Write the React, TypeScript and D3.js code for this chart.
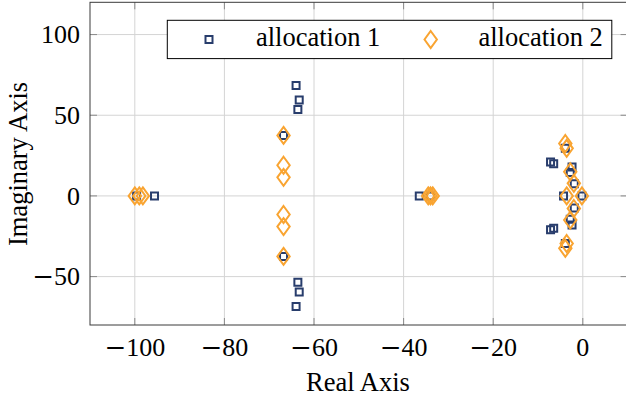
import * as d3 from "d3";
import React from "react";

// pole locations
const alloc1Real = [-99.6, -95.6, -64, -64, -63.3, -63.3, -63.6, -63.6, -66.8, -66.8, -36.5, -34,
  -7.2, -7.2, -6.5, -6.5, -4.3, -3.9, -3.9, -2.4, -2.4, -2.8, -2.8, -1.9, -1.9, -0.2]
const alloc1Imag = [0, 0, 68.5, -68.5, 59.5, -59.5, 53.5, -53.5, 37.5, -37.5, 0, 0,
  21, -21, 20, -20, 0, 29.5, -29.5, 18, -18, 14.5, -14.5, 7.5, -7.5, 0]

const alloc2Real = [-100, -99, -98.2, -66.8, -66.8, -66.8, -66.8, -66.8, -66.8, -34.5, -34, -33.5,
  -3.9, -3.9, -3.6, -3.6, -2.8, -2.8, -2.0, -2.0, -3.6, -0.2]
const alloc2Imag = [0, 0, 0, 37.5, -37.5, 19, -19, 11.5, -11.5, 0, 0, 0,
  32.5, -32.5, 29.5, -29.5, 15, -15, 7.8, -7.8, 0, 0]

const xTicks = [-100, -80, -60, -40, -20, 0]
const yTicks = [-50, 0, 50, 100]
const seriesNames = ["allocation 1", "allocation 2"]

const navy = "#283d6c"
const orange = "#f9a431"
const font = "'Liberation Serif', 'Times New Roman', serif"

// math-style minus: wider glyph from DejaVu Serif
const tickLabel = (v: number) => v < 0
  ? <><tspan fontFamily="'DejaVu Serif'">{"\u2212"}</tspan>{Math.abs(v)}</>
  : String(v)

const App: React.FC = () => {
  const W = 626, H = 398
  const m = { l: 90, r: 627.6, t: 2.3, b: 325 }
  const x = d3.scaleLinear([-110, 10], [m.l, m.r])
  const y = d3.scaleLinear([-80, 120], [m.b, m.t])
  const square = d3.symbol(d3.symbolSquare, 49)() || ""
  const diamond = "M0,-8.5L6.2,0L0,8.5L-6.2,0Z"
  const tickLen = 7

  return (
    <svg width={W} height={H} style={{ position: "absolute", left: 0, top: 0 }} fontFamily={font}>
      <rect width={W} height={H} fill="white" />
      {/* grid */}
      {xTicks.map(t => <line key={"gx" + t} x1={x(t)} x2={x(t)} y1={m.t} y2={m.b} stroke="#d4d4d4" />)}
      {yTicks.map(t => <line key={"gy" + t} x1={m.l} x2={m.r} y1={y(t)} y2={y(t)} stroke="#d4d4d4" />)}
      {/* ticks */}
      {xTicks.map(t => <g key={"tx" + t}>
        <line x1={x(t)} x2={x(t)} y1={m.b} y2={m.b - tickLen} stroke="#8a8a8a" />
        <line x1={x(t)} x2={x(t)} y1={m.t} y2={m.t + tickLen} stroke="#8a8a8a" />
        <text x={x(t)} y={356} fontSize={26} textAnchor="middle">{tickLabel(t)}</text>
      </g>)}
      {yTicks.map(t => <g key={"ty" + t}>
        <line x1={m.l} x2={m.l + tickLen} y1={y(t)} y2={y(t)} stroke="#8a8a8a" />
        <line x1={m.r} x2={m.r - tickLen} y1={y(t)} y2={y(t)} stroke="#8a8a8a" />
        <text x={80} y={y(t) + 8.8} fontSize={26} textAnchor="end">{tickLabel(t)}</text>
      </g>)}
      {/* frame */}
      <rect x={m.l} y={m.t} width={m.r - m.l} height={m.b - m.t} fill="none" stroke="#3a3a3a" />
      {/* series */}
      {alloc1Real.map((re, i) => (
        <path key={"a" + i} d={square} transform={`translate(${x(re)},${y(alloc1Imag[i])})`}
          fill="none" stroke={navy} strokeWidth={2} />
      ))}
      {alloc2Real.map((re, i) => (
        <path key={"b" + i} d={diamond} transform={`translate(${x(re)},${y(alloc2Imag[i])})`}
          fill="none" stroke={orange} strokeWidth={2} />
      ))}
      {/* legend */}
      <rect x={167.3} y={20.3} width={444.5} height={38.3} fill="white" stroke="black" />
      <path d={square} transform="translate(209,39.5)" fill="none" stroke={navy} strokeWidth={2} />
      <text x={256} y={46} fontSize={26.5}>{seriesNames[0]}</text>
      <path d={diamond} transform="translate(430.7,39.5)" fill="none" stroke={orange} strokeWidth={2} />
      <text x={478.5} y={46} fontSize={26.5}>{seriesNames[1]}</text>
      {/* axis labels */}
      <text x={358} y={391} fontSize={26.5} textAnchor="middle">Real Axis</text>
      <text transform="translate(27,164) rotate(-90)" fontSize={26.5} textAnchor="middle">Imaginary Axis</text>
    </svg>
  )
}

export default App
